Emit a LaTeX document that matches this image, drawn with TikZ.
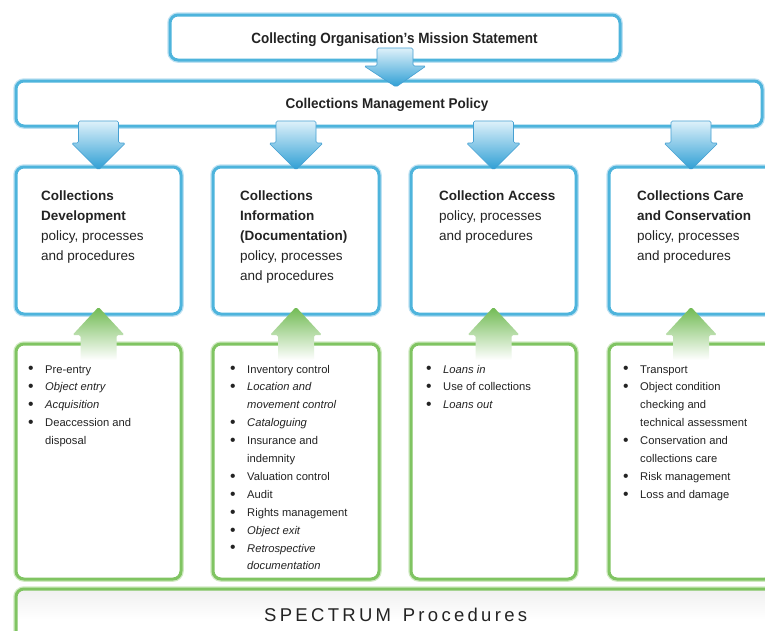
\documentclass[tikz,border=0pt]{standalone}
\usepackage{fontspec}
\setmainfont{Liberation Sans}
\usetikzlibrary{calc}
\definecolor{bluec}{RGB}{78,180,220}
\definecolor{bluehalo}{RGB}{190,225,242}
\definecolor{greenc}{RGB}{128,196,98}
\definecolor{greenhalo}{RGB}{208,234,194}
\definecolor{arrtop}{RGB}{222,241,250}
\definecolor{arrbot}{RGB}{45,158,212}
\definecolor{arrline}{RGB}{70,160,210}
\definecolor{garrtop}{RGB}{112,186,82}
\definecolor{garrmid}{RGB}{180,222,158}
\definecolor{txt}{RGB}{35,35,35}
\newcommand\bitem[1]{\makebox[17pt][l]{\raisebox{-0.9pt}{\scalebox{1.4}{\textbullet}}}#1}
\newcommand\bcont[1]{\hspace*{17pt}#1}
\newcommand\boxtext[1]{\parbox[t]{150pt}{\raggedright\fontsize{13.5}{20}\selectfont #1}}
\newcommand\bullettext[1]{\parbox[t]{160pt}{\raggedright\fontsize{11.2}{17.9}\selectfont #1}}
\newcommand\spacedletters[1]{\spacedaux#1\relax}
\def\spacedaux#1{\ifx#1\relax\else#1\kern3.3pt\expandafter\spacedaux\fi}
\begin{document}
\begin{tikzpicture}[x=1pt,y=-1pt,
  bluebox/.style={draw=bluec, line width=3pt, rounded corners=8pt, fill=white,
    outer sep=0pt, inner sep=0pt, preaction={draw=bluehalo, line width=5.5pt}},
  greenbox/.style={draw=greenc, line width=3pt, rounded corners=8pt, fill=white,
    outer sep=0pt, inner sep=0pt, preaction={draw=greenhalo, line width=5.5pt}},
  blueshade/.style={top color=arrtop, bottom color=arrbot, draw=arrline,
    line width=0.6pt, rounded corners=1.5pt},
  greenshade/.style={top color=garrtop, middle color=garrmid, bottom color=white,
    rounded corners=1.5pt},
  headtext/.style={inner sep=0pt, anchor=base, text=txt,
    font=\fontsize{13.5}{16}\selectfont\bfseries},
  bodytext/.style={inner sep=0pt, anchor=base west, text=txt},
  downarrow/.pic={\path[blueshade] (-20,-46) -- (-20,-24) -- (-27,-24) -- (0,3)
    -- (27,-24) -- (20,-24) -- (20,-46) -- cycle;},
  missionarrow/.pic={\path[blueshade] (-18,-12) -- (-18,6) -- (-31,6) -- (1,27)
    -- (31,6) -- (18,6) -- (18,-12) -- cycle;},
  uparrow/.pic={\path[greenshade] (-18,16) -- (-18,-9) -- (-26,-9) -- (0,-37)
    -- (26,-9) -- (18,-9) -- (18,16) -- cycle;}
]
\useasboundingbox (0,0) rectangle (765,630);
\clip (0,0) rectangle (765,630);
\fill[white] (0,0) rectangle (765,630);

% boxes
\node[bluebox, minimum width=450pt, minimum height=45pt] (mission) at (395,37.5) {};
\node[bluebox, minimum width=746pt, minimum height=45pt] (policy) at (389,103.5) {};
\node[bluebox, minimum width=165pt, minimum height=147pt] (b1) at (98.5,240.5) {};
\node[bluebox, minimum width=166pt, minimum height=147pt] (b2) at (296,240.5) {};
\node[bluebox, minimum width=165pt, minimum height=147pt] (b3) at (493.5,240.5) {};
\node[bluebox, minimum width=164pt, minimum height=147pt] (b4) at (691,240.5) {};
\node[greenbox, minimum width=165pt, minimum height=235pt] (g1) at (98.5,461.5) {};
\node[greenbox, minimum width=166pt, minimum height=235pt] (g2) at (296,461.5) {};
\node[greenbox, minimum width=165pt, minimum height=235pt] (g3) at (493.5,461.5) {};
\node[greenbox, minimum width=164pt, minimum height=235pt] (g4) at (691,461.5) {};
\node[greenbox, minimum width=759pt, minimum height=60pt,
  top color=black!6, bottom color=white, middle color=white] (spec) at (395.5,619) {};

% arrows
\pic at (mission.south) {missionarrow};
\pic at (b1.north) {downarrow};
\pic at (b2.north) {downarrow};
\pic at (b3.north) {downarrow};
\pic at (b4.north) {downarrow};
\pic at (g1.north) {uparrow};
\pic at (g2.north) {uparrow};
\pic at (g3.north) {uparrow};
\pic at (g4.north) {uparrow};

% texts
\node[headtext] (missiontxt) at ($(mission.center)+(-0.5,5.5)$)
  {\scalebox{1}[1.1]{Collecting Organisation’s Mission Statement}};
\node[headtext] (policytxt) at ($(policy.center)+(-2,4.5)$)
  {\scalebox{1}[1.05]{Collections Management Policy}};

\node[bodytext] (t1) at ($(b1.north west)+(25,33)$)
  {\boxtext{\textbf{Collections}\\\textbf{Development}\\policy, processes\\and procedures}};
\node[bodytext] (t2) at ($(b2.north west)+(27,33)$)
  {\boxtext{\textbf{Collections}\\\textbf{Information}\\\textbf{(Documentation)}\\policy, processes\\and procedures}};
\node[bodytext] (t3) at ($(b3.north west)+(28,33)$)
  {\boxtext{\textbf{Collection Access}\\policy, processes\\and procedures}};
\node[bodytext] (t4) at ($(b4.north west)+(28,33)$)
  {\boxtext{\textbf{Collections Care}\\\textbf{and Conservation}\\policy, processes\\and procedures}};

\node[bodytext] (l1) at ($(g1.north west)+(12,29)$)
  {\bullettext{\bitem{Pre-entry}\\\bitem{\textit{Object entry}}\\\bitem{\textit{Acquisition}}\\
   \bitem{Deaccession and}\\\bcont{disposal}}};
\node[bodytext] (l2) at ($(g2.north west)+(17,29)$)
  {\bullettext{\bitem{Inventory control}\\\bitem{\textit{Location and}}\\\bcont{\textit{movement control}}\\
   \bitem{\textit{Cataloguing}}\\\bitem{Insurance and}\\\bcont{indemnity}\\
   \bitem{Valuation control}\\\bitem{Audit}\\\bitem{Rights management}\\
   \bitem{\textit{Object exit}}\\\bitem{\textit{Retrospective}}\\\bcont{\textit{documentation}}}};
\node[bodytext] (l3) at ($(g3.north west)+(15,29)$)
  {\bullettext{\bitem{\textit{Loans in}}\\\bitem{Use of collections}\\\bitem{\textit{Loans out}}}};
\node[bodytext] (l4) at ($(g4.north west)+(14,29)$)
  {\bullettext{\bitem{Transport}\\\bitem{Object condition}\\\bcont{checking and}\\
   \bcont{technical assessment}\\\bitem{Conservation and}\\\bcont{collections care}\\
   \bitem{Risk management}\\\bitem{Loss and damage}}};

\node[bodytext, font=\fontsize{18.5}{22}\selectfont] (spectxt) at (264,621)
  {\spacedletters{SPECTRUM~Procedures}};
\end{tikzpicture}
\end{document}
